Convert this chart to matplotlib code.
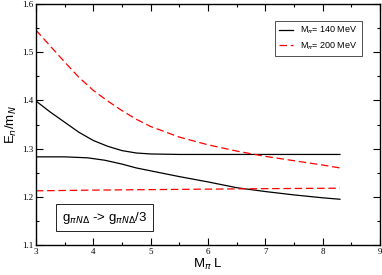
import numpy as np
import matplotlib
matplotlib.use("Agg")
import matplotlib.pyplot as plt
from matplotlib.ticker import MultipleLocator

# Data
x_b1 = [3.0, 3.25, 3.5, 3.75, 4.0, 4.25, 4.5, 4.75, 5.0, 5.5, 6.0, 7.0, 8.3]
y_b1 = [1.399, 1.376, 1.355, 1.334, 1.317, 1.305, 1.296, 1.291, 1.289, 1.288, 1.288, 1.288, 1.288]

x_b2 = [3.0, 3.5, 3.9, 4.2, 4.5, 4.75, 5.0, 5.25, 5.5, 6.0, 6.5, 7.0, 7.5, 8.0, 8.3]
y_b2 = [1.283, 1.283, 1.281, 1.276, 1.268, 1.260, 1.254, 1.248, 1.242, 1.231, 1.219, 1.211, 1.204, 1.198, 1.195]

x_r1 = [3.0, 3.25, 3.5, 3.75, 4.0, 4.25, 4.5, 4.75, 5.0, 5.5, 6.0, 6.5, 7.0, 7.5, 8.0, 8.3]
y_r1 = [1.546, 1.513, 1.480, 1.448, 1.421, 1.399, 1.379, 1.361, 1.346, 1.324, 1.308, 1.295, 1.284, 1.275, 1.266, 1.260]

x_r2 = [3.0, 4.0, 5.0, 6.0, 7.0, 8.3]
y_r2 = [1.2125, 1.214, 1.215, 1.216, 1.217, 1.218]

labels = ["M$_\\pi$= 140 MeV", "M$_\\pi$= 200 MeV"]

fig = plt.figure(figsize=(3.82, 2.75), dpi=100)
ax = fig.add_axes([0.094, 0.109, 0.901, 0.876])

l1, = ax.plot(x_b1, y_b1, color="black", lw=0.9)
ax.plot(x_b2, y_b2, color="black", lw=0.9)
l2, = ax.plot(x_r1, y_r1, color="red", lw=0.9, dashes=(6, 3))
ax.plot(x_r2, y_r2, color="red", lw=0.9, dashes=(6, 3))

ax.set_xlim(3, 9)
ax.set_ylim(1.1, 1.6)
ax.xaxis.set_major_locator(MultipleLocator(1))
ax.xaxis.set_minor_locator(MultipleLocator(0.5))
ax.yaxis.set_major_locator(MultipleLocator(0.1))
ax.yaxis.set_minor_locator(MultipleLocator(0.05))
ax.tick_params(which="both", direction="in", top=True, right=True, width=0.8)
ax.tick_params(which="major", length=5, labelsize=6.5, pad=2)
ax.tick_params(which="minor", length=2.5)
for lab in ax.get_xticklabels() + ax.get_yticklabels():
    lab.set_family("Liberation Serif")
for s in ax.spines.values():
    s.set_linewidth(1.0)

ax.set_xlabel("M$_\\pi$ L", fontsize=9.5, family="Liberation Sans", labelpad=1)
ax.set_ylabel("E$_n$/m$_N$", fontsize=9.5, family="Liberation Sans", labelpad=2)

leg = ax.legend([l1, l2], labels, loc="upper right", bbox_to_anchor=(0.96, 0.95),
                frameon=True, fancybox=False, edgecolor="black",
                handlelength=1.6, handletextpad=0.8, borderpad=0.45, labelspacing=0.45,
                prop={"family": "Liberation Sans", "size": 6.5})
leg.get_frame().set_linewidth(0.6)

ax.text(0.075, 0.114, "g$_{\\pi N\\Delta}$ -> g$_{\\pi N\\Delta}$/3", transform=ax.transAxes,
        fontsize=9.5, family="Liberation Sans", va="center", ha="left",
        bbox=dict(boxstyle="square,pad=0.45", fc="white", ec="black", lw=0.6))

fig.savefig("out.png", dpi=100)
